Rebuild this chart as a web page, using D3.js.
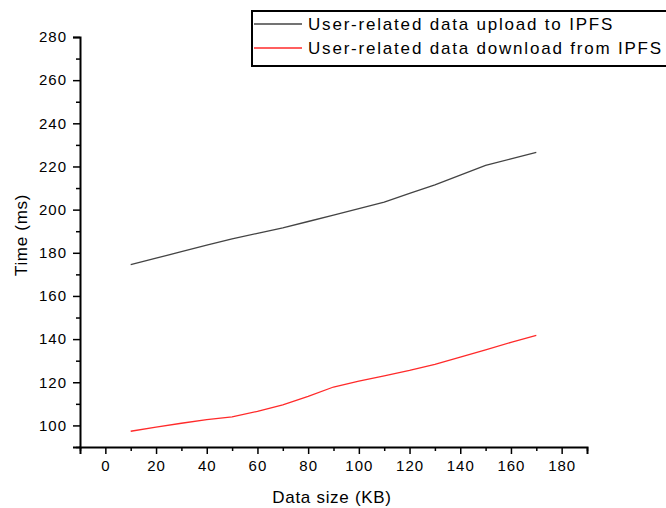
<!DOCTYPE html>
<html>
<head>
<meta charset="utf-8">
<script src="https://cdn.jsdelivr.net/npm/d3@7"></script>
<style>
  body { margin: 0; background: #fff; }
  svg text { font-family: "Liberation Sans", Arial, sans-serif; fill: #000; }
</style>
</head>
<body>
<div id="chart"></div>
<script>
// data
var sizes = [10, 20, 30, 40, 50, 60, 70, 80, 90, 100, 110, 120, 130, 140, 150, 160, 170];
var uploadTime = [174.5, 177.5, 180.5, 183.5, 186.5, 189, 191.5, 194.5, 197.5, 200.5, 203.5, 207.5, 211.5, 216, 220.5, 223.5, 226.5];
var downloadTime = [97.3, 99.2, 101, 102.7, 104, 106.5, 109.5, 113.5, 117.8, 120.5, 123, 125.5, 128.3, 131.7, 135, 138.5, 141.7];
var seriesNames = ["User-related data upload to IPFS", "User-related data download from IPFS"];
var xTicks = [0, 20, 40, 60, 80, 100, 120, 140, 160, 180];
var xMinor = [-10, 10, 30, 50, 70, 90, 110, 130, 150, 170, 190];
var yTicks = [100, 120, 140, 160, 180, 200, 220, 240, 260, 280];
var yMinor = [90, 110, 130, 150, 170, 190, 210, 230, 250, 270];

var width = 666, height = 508;
var svg = d3.select("#chart").append("svg")
    .attr("width", width)
    .attr("height", height);

var x = d3.scaleLinear().domain([-10, 190]).range([80, 587]);
var y = d3.scaleLinear().domain([90, 280]).range([447, 37]);

// minor ticks first
svg.append("g")
    .attr("transform", "translate(0," + y(90) + ")")
    .call(d3.axisBottom(x).tickValues(xMinor).tickSize(4).tickFormat(""))
    .call(g => g.select(".domain").remove())
    .selectAll("line").attr("stroke-width", 1.5);

svg.append("g")
    .attr("transform", "translate(" + x(-10) + ",0)")
    .call(d3.axisLeft(y).tickValues(yMinor).tickSize(4).tickFormat(""))
    .call(g => g.select(".domain").remove())
    .selectAll("line").attr("stroke-width", 1.5);

// major ticks + labels
var xAxis = svg.append("g")
    .attr("transform", "translate(0," + y(90) + ")")
    .call(d3.axisBottom(x).tickValues(xTicks).tickSizeOuter(0).tickSize(7).tickPadding(6));
xAxis.select(".domain").attr("stroke-width", 2);
xAxis.selectAll("line").attr("stroke-width", 1.5);
xAxis.selectAll("text")
    .style("font-size", "15px")
    .style("letter-spacing", "1px")
    .style("font-family", "'Liberation Sans', Arial, sans-serif");

var yAxis = svg.append("g")
    .attr("transform", "translate(" + x(-10) + ",0)")
    .call(d3.axisLeft(y).tickValues(yTicks).tickSizeOuter(0).tickSize(7).tickPadding(6));
yAxis.select(".domain").attr("stroke-width", 2);
yAxis.selectAll("line").attr("stroke-width", 1.5);
yAxis.selectAll("text")
    .style("font-size", "15px")
    .style("letter-spacing", "1px")
    .style("font-family", "'Liberation Sans', Arial, sans-serif");

// axis titles
svg.append("text")
    .attr("x", 332)
    .attr("y", 503)
    .attr("text-anchor", "middle")
    .style("font-size", "17px")
    .style("letter-spacing", "0.7px")
    .text("Data size (KB)");

svg.append("text")
    .attr("transform", "translate(27,235) rotate(-90)")
    .attr("text-anchor", "middle")
    .style("font-size", "17px")
    .style("letter-spacing", "0.7px")
    .text("Time (ms)");

// lines
var line = d3.line()
    .x((d, i) => x(sizes[i]))
    .y(d => y(d));

svg.append("path")
    .datum(uploadTime)
    .attr("fill", "none")
    .attr("stroke", "#444")
    .attr("stroke-width", 1.3)
    .attr("d", line);

svg.append("path")
    .datum(downloadTime)
    .attr("fill", "none")
    .attr("stroke", "#ff2a2a")
    .attr("stroke-width", 1.3)
    .attr("d", line);

// legend
var legend = svg.append("g");
legend.append("rect")
    .attr("x", 252)
    .attr("y", 11)
    .attr("width", 430)
    .attr("height", 55)
    .attr("fill", "#fff")
    .attr("stroke", "#000")
    .attr("stroke-width", 2);

var colors = ["#444", "#ff2a2a"];
seriesNames.forEach(function(name, i) {
    var cy = 24 + i * 24;
    legend.append("line")
        .attr("x1", 254).attr("x2", 302)
        .attr("y1", cy).attr("y2", cy)
        .attr("stroke", colors[i])
        .attr("stroke-width", 1.3);
    legend.append("text")
        .attr("x", 308)
        .attr("y", cy + 6)
        .style("font-size", "17px")
        .style("letter-spacing", "1.8px")
        .text(name);
});
</script>
</body>
</html>
